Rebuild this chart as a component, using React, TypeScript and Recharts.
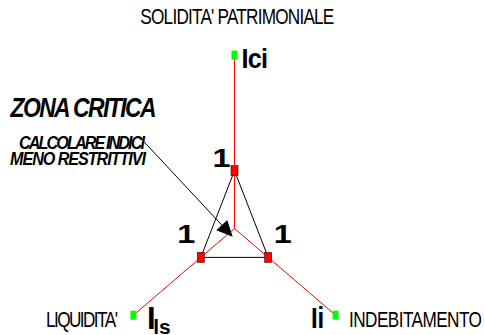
import { Scatter, ScatterChart, XAxis, YAxis } from 'recharts';

// three ratio axes of the critical-zone diagram
const axisNames = ['Ici', 'Ils', 'Ii'];
const axisTitles = ["SOLIDITA' PATRIMONIALE", "LIQUIDITA'", 'INDEBITAMENTO'];
const axisAngles = [90, 210, 330];
const axisMax = [3, 3, 3];
const indexValues = [1, 1, 1];

const zonaTitle = 'ZONA CRITICA';
const zonaNote = ['CALCOLARE INDICI', 'MENO RESTRITTIVI'];

const FONT = '"Liberation Sans", Arial, sans-serif';

const polar = (angle: number, r: number) => ({
  x: r * Math.cos((angle * Math.PI) / 180),
  y: r * Math.sin((angle * Math.PI) / 180),
});

const centre = { x: 0, y: 0 };
const axisEnds = axisNames.map((name, i) => ({
  name,
  title: axisTitles[i],
  ...polar(axisAngles[i], axisMax[i]),
}));
const valuePoints = axisNames.map((name, i) => ({
  name,
  value: indexValues[i],
  ...polar(axisAngles[i], indexValues[i]),
}));
const triangle = [...valuePoints, valuePoints[0]];

// label offsets (px) from the marker they belong to
const valueLabelPos: Record<string, [number, number]> = {
  Ici: [-22, -4],
  Ils: [-23.5, -14.1],
  Ii: [5.5, -14.1],
};
const titlePos: Record<string, { dx: number; dy: number; len: number; anchor: 'start' | 'middle' }> = {
  Ici: { dx: 2.85, dy: -31, len: 194, anchor: 'middle' },
  Ils: { dx: -87.5, dy: 12.1, len: 72, anchor: 'start' },
  Ii: { dx: 13.4, dy: 12.1, len: 133, anchor: 'start' },
};

type CondensedProps = {
  x: number;
  y: number;
  len: number;
  size: number;
  squeeze: number;
  anchor?: 'start' | 'middle' | 'end';
  bold?: boolean;
  italic?: boolean;
  children: React.ReactNode;
};

// narrow glyphs plus tight tracking, like the original export
function Condensed({ x, y, len, size, squeeze, anchor = 'start', bold, italic, children }: CondensedProps) {
  return (
    <text
      transform={`translate(${x},${y}) scale(${squeeze},1)`}
      textAnchor={anchor}
      fontFamily={FONT}
      fontSize={size}
      fontWeight={bold ? 'bold' : 'normal'}
      fontStyle={italic ? 'italic' : 'normal'}
      textLength={len / squeeze}
      lengthAdjust="spacing"
      fill="#000"
    >
      {children}
    </text>
  );
}

const NoDot = () => <g />;

function AxisName({ name, cx, cy }: { name: string; cx: number; cy: number }) {
  if (name === 'Ils') {
    return (
      <text x={cx + 13.6} y={cy + 14.1} fontFamily={FONT} fontWeight="bold" fontSize={31} fill="#000">
        I
        <tspan fontSize={21} dx={-2.5} dy={4.7}>
          ls
        </tspan>
      </text>
    );
  }
  if (name === 'Ii') {
    return (
      <Condensed x={cx - 24.5} y={cy + 13.1} len={13} size={30} squeeze={0.8} bold>
        Ii
      </Condensed>
    );
  }
  return (
    <Condensed x={cx + 7} y={cy + 13.2} len={26.5} size={28} squeeze={0.9} bold>
      {name}
    </Condensed>
  );
}

function EndMarker(props: any) {
  const { cx, cy, payload } = props;
  const t = titlePos[payload.name];
  return (
    <g>
      <rect x={cx - 3} y={cy - 4.5} width={6} height={9} fill="#00ff00" />
      <AxisName name={payload.name} cx={cx} cy={cy} />
      <Condensed x={cx + t.dx} y={cy + t.dy} len={t.len} size={21.5} squeeze={0.8} anchor={t.anchor}>
        {payload.title}
      </Condensed>
    </g>
  );
}

function ValueMarker(props: any) {
  const { cx, cy, payload } = props;
  const [dx, dy] = valueLabelPos[payload.name];
  return (
    <g>
      <rect x={cx - 3.5} y={cy - 5} width={7} height={10} fill="#ff0000" stroke="#400000" strokeWidth={0.6} />
      <text
        x={cx + dx}
        y={cy + dy}
        fontFamily={FONT}
        fontWeight="bold"
        fontSize={25.6}
        textLength={18}
        lengthAdjust="spacingAndGlyphs"
        fill="#000"
      >
        {payload.value}
      </text>
    </g>
  );
}

function Annotation() {
  const start = [143.3, 141];
  const tip = [232.7, 236.7];
  const len = Math.hypot(tip[0] - start[0], tip[1] - start[1]);
  const ux = (tip[0] - start[0]) / len;
  const uy = (tip[1] - start[1]) / len;
  const bx = tip[0] - 16 * ux;
  const by = tip[1] - 16 * uy;
  const head = `${tip[0]},${tip[1]} ${bx - 7.5 * uy},${by + 7.5 * ux} ${bx + 7.5 * uy},${by - 7.5 * ux}`;
  return (
    <svg width={485} height={335} style={{ position: 'absolute', left: 0, top: 0, pointerEvents: 'none' }}>
      <Condensed x={10.5} y={117.3} len={146} size={27} squeeze={0.85} bold italic>
        {zonaTitle}
      </Condensed>
      <Condensed x={19} y={148.5} len={126} size={19} squeeze={0.85} bold italic>
        {zonaNote[0]}
      </Condensed>
      <Condensed x={10} y={165} len={136} size={19} squeeze={0.85} bold italic>
        {zonaNote[1]}
      </Condensed>
      <line x1={start[0]} y1={start[1]} x2={bx} y2={by} stroke="#000" strokeWidth={1} />
      <polygon points={head} fill="#000" />
    </svg>
  );
}

export default function App() {
  return (
    <div style={{ position: 'relative', width: 485, height: 335, background: '#fff' }}>
      <style>{'body{margin:0}'}</style>
      <ScatterChart width={485} height={335} margin={{ top: 20.4, right: 17.1, bottom: 2.48, left: 20.55 }}>
        <XAxis type="number" dataKey="x" domain={[-5.5, 6]} hide />
        <YAxis type="number" dataKey="y" domain={[-1.8, 3.6]} hide />
        {axisEnds.map((end) => (
          <Scatter
            key={end.name}
            data={[centre, end]}
            line={{ stroke: '#ff0000', strokeWidth: 1 }}
            shape={NoDot}
            isAnimationActive={false}
          />
        ))}
        <Scatter
          data={triangle}
          line={{ stroke: '#000', strokeWidth: 1 }}
          shape={NoDot}
          isAnimationActive={false}
        />
        <Scatter data={valuePoints} shape={ValueMarker} isAnimationActive={false} />
        <Scatter data={axisEnds} shape={EndMarker} isAnimationActive={false} />
      </ScatterChart>
      <Annotation />
    </div>
  );
}
